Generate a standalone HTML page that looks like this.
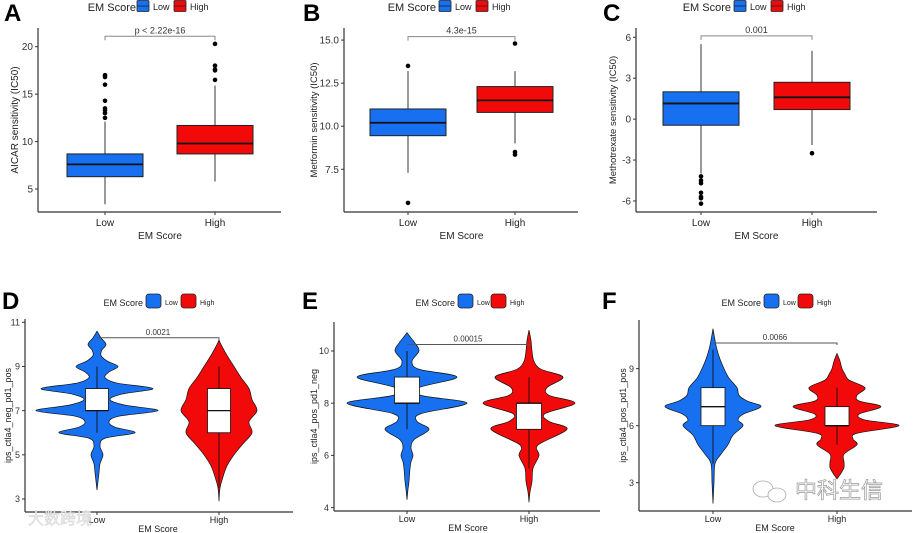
<!DOCTYPE html>
<html><head><meta charset="utf-8"><style>
body{margin:0;background:#fff;}
svg{display:block;font-family:"Liberation Sans",Arial,sans-serif;}
</style></head><body>
<svg id="fig" width="913" height="533" viewBox="0 0 913 533"></svg>
<script>
const groups=["Low","High"];
// Box stats: [whiskerLow, q1, median, q3, whiskerHigh]
const boxA=[[3.4,6.3,7.6,8.7,12.1],[5.8,8.7,9.8,11.7,15.9]];
const outA=[[12.5,13,13.3,13.5,14.3,16,16.8,17],[16.5,17.5,17.6,18,20.3]];
const boxB=[[7.3,9.45,10.2,11.0,13.2],[9.0,10.8,11.5,12.3,13.2]];
const outB=[[13.5,5.55],[14.8,8.5,8.35]];
const boxC=[[-4.0,-0.45,1.15,2.0,5.5],[-1.9,0.7,1.6,2.7,5.0]];
const outC=[[-4.2,-4.5,-4.7,-5.4,-5.7,-5.8,-6.2],[-2.5]];
const boxD=[[6,7,7,8,9],[3.5,6,7,8,9]];
const boxE=[[7,8,8,9,10],[5.5,7,8,8,9]];
const boxF=[[4,6,7,8,10],[5,6,6,7,8]];
// Violin densities: [value, relative width]
const vioD=[[[3.4,0],[3.8,1],[4.2,2],[4.6,3],[5,6],[5.4,3],[5.75,8],[6,38],[6.25,18],[6.5,12],[6.75,22],[7,61],[7.25,28],[7.5,13],[7.75,25],[8,56],[8.25,20],[8.5,8],[8.75,12],[9,21],[9.25,10],[9.5,4],[9.75,5],[10,9],[10.3,4],[10.6,0]],
            [[2.9,0],[3.5,1],[4,4],[4.5,8],[5,15],[5.5,24],[6,33],[6.5,30],[7,38],[7.5,33],[8,30],[8.5,22],[9,15],[9.5,8],[10,2],[10.2,0]]];
const vioE=[[[4.3,0],[4.7,1],[5,2],[5.5,3],[5.75,4],[6,6],[6.3,4],[6.6,7],[7,22],[7.3,10],[7.6,14],[8,60],[8.3,14],[8.6,12],[9,50],[9.3,12],[9.6,5],[10,12],[10.3,8],[10.5,4],[10.7,0]],
            [[4.2,0],[4.6,1],[5,3],[5.5,4],[6,10],[6.4,9],[7,38],[7.3,20],[7.6,16],[8,46],[8.3,20],[8.6,18],[9,34],[9.3,12],[9.6,5],[10,3],[10.4,2],[10.8,0]]];
const vioF=[[[1.9,0],[3,1],[4,2],[4.5,8],[5,15],[5.5,20],[6,30],[6.3,25],[6.6,30],[7,48],[7.3,34],[7.6,26],[8,24],[8.5,16],[9,11],[9.5,7],[10,4],[10.5,2],[11.1,0]],
            [[3.2,0],[3.5,4],[3.8,7],[4.1,7],[4.5,7],[5,20],[5.3,16],[5.6,20],[6,62],[6.3,28],[6.6,22],[7,44],[7.3,22],[7.6,20],[8,28],[8.4,12],[8.7,8],[9,5],[9.4,3],[9.8,0]]];
const ticksA=[5,10,15,20], ticksB=[7.5,10,12.5,15], ticksC=[-6,-3,0,3,6];
const tickLabB=["7.5","10.0","12.5","15.0"];
const ticksD=[3,5,7,9,11], ticksE=[4,6,8,10], ticksF=[3,6,9];
const pvals=["p < 2.22e-16","4.3e-15","0.001","0.0021","0.00015","0.0066"];
const ytitles=["AICAR sensitivity (IC50)","Metformin sensitivity (IC50)","Methotrexate sensitivity (IC50)","ips_ctla4_neg_pd1_pos","ips_ctla4_pos_pd1_neg","ips_ctla4_pos_pd1_pos"];

const BLUE="#1670f0", RED="#f20a0a";
const svg=document.getElementById('fig');
const NS="http://www.w3.org/2000/svg";
function mk(tag,attrs,parent,text){const e=document.createElementNS(NS,tag);for(const k in attrs)e.setAttribute(k,attrs[k]);if(text!==undefined)e.textContent=text;(parent||svg).appendChild(e);return e;}
function crSeg(pts){
  let s='';
  for(let i=0;i<pts.length-1;i++){
    const p0=pts[Math.max(0,i-1)],p1=pts[i],p2=pts[i+1],p3=pts[Math.min(pts.length-1,i+2)];
    const c1=[p1[0]+(p2[0]-p0[0])/6,p1[1]+(p2[1]-p0[1])/6];
    const c2=[p2[0]-(p3[0]-p1[0])/6,p2[1]-(p3[1]-p1[1])/6];
    s+=` C${c1[0]},${c1[1]} ${c2[0]},${c2[1]} ${p2[0]},${p2[1]}`;
  }
  return s;
}

function panel(cfg){
  const g=mk('g',{});
  
  
  const y=v=>cfg.yBot-(v-cfg.vMin)/(cfg.vMax-cfg.vMin)*(cfg.yBot-cfg.yTop);
  const xs=cfg.xs;
  const fs=cfg.fs;
  const L=mk('text',{x:cfg.lx,y:cfg.ly,'font-size':24,'font-weight':'bold',fill:'#000'},g,cfg.letter);
  
  
  const lg=mk('g',{},g);
  
  
  mk('text',{x:cfg.leg[0],y:cfg.legY+4,'font-size':cfg.legFs,'text-anchor':'end',fill:'#222'},lg,'EM Score');
  [[cfg.leg[1],BLUE,'Low'],[cfg.leg[2],RED,'High']].forEach(([lx,c,t])=>{
    const sw=mk('rect',{x:lx,y:cfg.legY-cfg.sw/2-1,width:cfg.sw+1,height:cfg.sw,rx:cfg.violin?3:1,fill:c,stroke:'#222','stroke-width':0.8},lg);
    
    
    if(!cfg.violin) mk('line',{x1:lx,x2:lx+cfg.sw+1,y1:cfg.legY-1,y2:cfg.legY-1,stroke:'#222','stroke-width':0.8},lg);
    mk('text',{x:lx+cfg.sw+5,y:cfg.legY+3,'font-size':cfg.legFs-2,fill:'#222'},lg,t);
  });
  const ax=mk('g',{},g);
  
  
  mk('line',{x1:cfg.x0,x2:cfg.x0,y1:cfg.yTop,y2:cfg.yBot,stroke:'#333','stroke-width':1.2},ax);
  mk('line',{x1:cfg.x0,x2:cfg.x1,y1:cfg.yBot,y2:cfg.yBot,stroke:'#333','stroke-width':1.2},ax);
  cfg.ticks.forEach((t,i)=>{
    mk('line',{x1:cfg.x0-3,x2:cfg.x0,y1:y(t),y2:y(t),stroke:'#333'},ax);
    mk('text',{x:cfg.x0-5,y:y(t)+fs*0.35,'font-size':fs,'text-anchor':'end',fill:'#333'},ax,cfg.tickLab?cfg.tickLab[i]:String(t));
  });
  groups.forEach((gname,i)=>{
    mk('line',{x1:xs[i],x2:xs[i],y1:cfg.yBot,y2:cfg.yBot+3,stroke:'#333'},ax);
    mk('text',{x:xs[i],y:cfg.yBot+cfg.xly,'font-size':fs,'text-anchor':'middle',fill:'#222'},ax,gname);
  });
  const xt=mk('text',{x:(xs[0]+xs[1])/2,y:cfg.yBot+cfg.xty,'font-size':fs,'text-anchor':'middle',fill:'#222'},ax,'EM Score');
  
  
  const yt=mk('text',{x:0,y:0,'font-size':cfg.yfs,'text-anchor':'middle',fill:'#222',transform:`translate(${cfg.ytx},${(cfg.yTop+cfg.yBot)/2}) rotate(-90)`},ax,cfg.ytitle);
  
  
  const colors=[BLUE,RED];
  groups.forEach((gname,i)=>{
    const s=cfg.box[i], cx=xs[i], hw=cfg.bw/2;
    const grp=mk('g',{},g);
    
    
    if(cfg.violin){
      const d=cfg.vio[i];
      const right=d.map(p=>[cx+p[1]*cfg.vs,y(p[0])]);
      const left=d.slice().reverse().map(p=>[cx-p[1]*cfg.vs,y(p[0])]);
      let path=`M${right[0][0]},${right[0][1]}`+crSeg(right)+` L${left[0][0]},${left[0][1]}`+crSeg(left)+' Z';
      mk('path',{d:path,fill:colors[i],stroke:'#111','stroke-width':0.7},grp);
      mk('line',{x1:cx,x2:cx,y1:y(s[0]),y2:y(s[4]),stroke:'#111','stroke-width':0.9},grp);
      mk('rect',{x:cx-hw,y:y(s[3]),width:cfg.bw,height:y(s[1])-y(s[3]),fill:'#fff',stroke:'#111','stroke-width':0.8},grp);
      mk('line',{x1:cx-hw,x2:cx+hw,y1:y(s[2]),y2:y(s[2]),stroke:'#111','stroke-width':1.3},grp);
    } else {
      mk('line',{x1:cx,x2:cx,y1:y(s[0]),y2:y(s[1]),stroke:'#333','stroke-width':1},grp);
      mk('line',{x1:cx,x2:cx,y1:y(s[3]),y2:y(s[4]),stroke:'#333','stroke-width':1},grp);
      mk('rect',{x:cx-hw,y:y(s[3]),width:cfg.bw,height:y(s[1])-y(s[3]),fill:colors[i],stroke:'#222','stroke-width':1},grp);
      mk('line',{x1:cx-hw,x2:cx+hw,y1:y(s[2]),y2:y(s[2]),stroke:'#111','stroke-width':1.8},grp);
      cfg.out[i].forEach(v=>{
        const c=mk('circle',{cx:cx,cy:y(v),r:2.3,fill:'#000'},grp);
        
        
      });
    }
  });
  const br=mk('g',{},g);
  
  
  const by=y(cfg.bracket);
  const col=cfg.violin?'#555':'#888';
  mk('polyline',{points:`${xs[0]},${by+(cfg.violin?0:4)} ${xs[0]},${by} ${xs[1]},${by} ${xs[1]},${by+(cfg.violin?2:4)}`,fill:'none',stroke:col,'stroke-width':1},br);
  mk('text',{x:(xs[0]+xs[1])/2,y:by-3,'font-size':fs-1,'text-anchor':'middle',fill:'#333'},br,cfg.pval);
}

const topCfg={yTop:28,yBot:212,fs:10,yfs:10,legY:7,legFs:11,sw:11,bw:76,violin:false,ly:21,xly:14,xty:27};
panel(Object.assign({},topCfg,{letter:'A',lx:4,x0:38,x1:281,xs:[105,215],vMin:2.58,vMax:21.97,ticks:ticksA,box:boxA,out:outA,bracket:21.1,pval:pvals[0],ytitle:ytitles[0],ytx:18,leg:[136,137,174]}));
panel(Object.assign({},topCfg,{letter:'B',lx:303,x0:344,x1:578,xs:[408,515],vMin:5.02,vMax:15.70,ticks:ticksB,tickLab:tickLabB,box:boxB,out:outB,bracket:15.2,pval:pvals[1],ytitle:ytitles[1],ytx:317,leg:[436,439,476],yfs:9.5}));
panel(Object.assign({},topCfg,{letter:'C',lx:603,x0:636,x1:877,xs:[701,812],vMin:-6.81,vMax:6.68,ticks:ticksC,box:boxC,out:outC,bracket:6.1,pval:pvals[2],ytitle:ytitles[2],ytx:616,leg:[731,734,771],yfs:9.5}));
const botCfg={yBot:511,fs:9,yfs:9,legY:302,legFs:9,sw:14,bw:23,violin:true,ly:309,vs:1,xly:11,xty:20};
panel(Object.assign({},botCfg,{letter:'D',lx:2,x0:25,x1:293,yTop:319,yBot:512,xs:[97,219],vMin:2.41,vMax:11.15,ticks:ticksD,box:boxD,vio:vioD,bracket:10.3,pval:pvals[3],ytitle:ytitles[3],ytx:11,leg:[143,146,181]}));
panel(Object.assign({},botCfg,{letter:'E',lx:302,x0:334,x1:600,yTop:322,xs:[407,529],bw:25,vMin:3.87,vMax:11.11,ticks:ticksE,box:boxE,vio:vioE,bracket:10.25,pval:pvals[4],ytitle:ytitles[4],ytx:317,leg:[455,458,491]}));
panel(Object.assign({},botCfg,{letter:'F',lx:602,x0:639,x1:912,yTop:320,xs:[713,837],bw:24,vMin:1.51,vMax:11.56,ticks:ticksF,box:boxF,vio:vioF,bracket:10.35,pval:pvals[5],ytitle:ytitles[5],ytx:626,leg:[761,764,798]}));

const w1=mk('text',{x:28,y:524,'font-size':16,fill:'#eee',stroke:'#ccc','stroke-width':0.4,'font-family':'"Liberation Sans","Noto Sans CJK SC",sans-serif'},svg,'大数跨境');


const w2=mk('text',{x:795,y:498,'font-size':22,fill:'#fff',stroke:'#999','stroke-width':0.7,'font-family':'"Liberation Sans","Noto Sans CJK SC",sans-serif'},svg,'中科生信');


const w3=mk('g',{},svg);


mk('ellipse',{cx:763,cy:489,rx:10,ry:8,fill:'none',stroke:'#aaa','stroke-width':0.8},w3);
mk('ellipse',{cx:777,cy:495,rx:9,ry:7,fill:'#fff',stroke:'#aaa','stroke-width':0.8},w3);
</script>
</body></html>
